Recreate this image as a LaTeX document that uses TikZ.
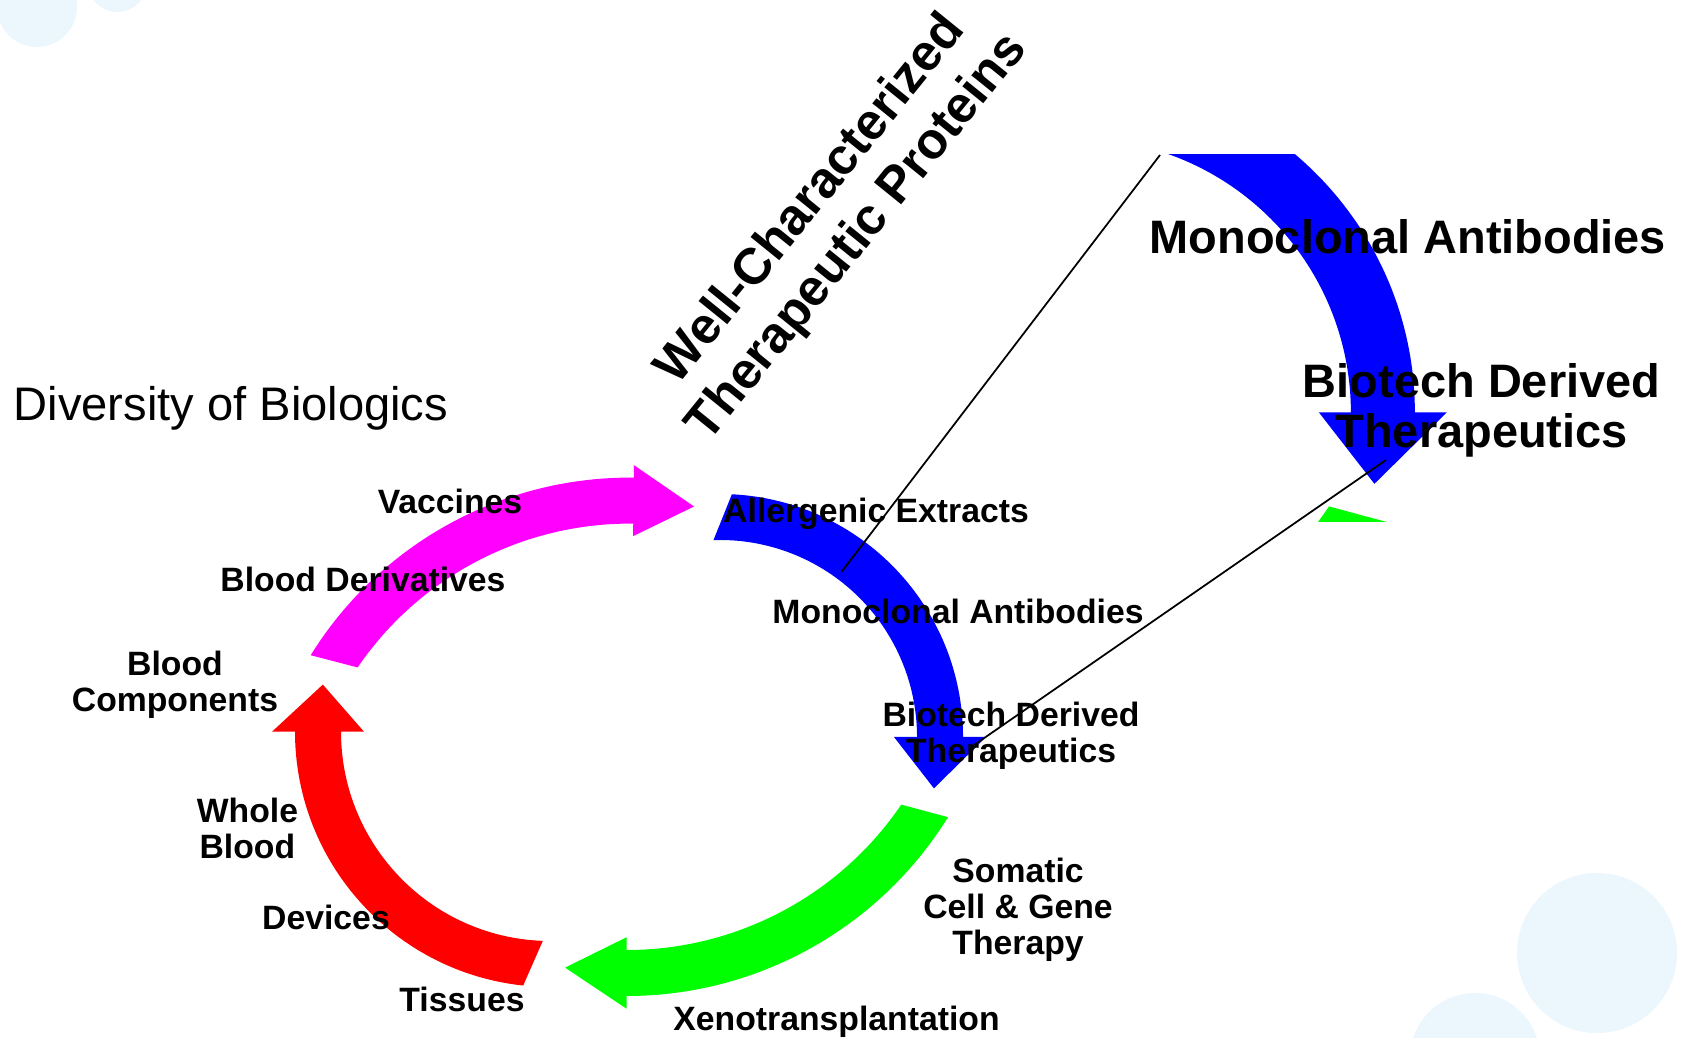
\documentclass[tikz,border=0pt]{standalone}
\usepackage{fontspec}
\setmainfont{Liberation Sans}
\usepackage{tikz}
\definecolor{bubble}{RGB}{236,246,253}
\definecolor{vaccmagenta}{RGB}{255,0,255}
\definecolor{mabblue}{RGB}{0,0,255}
\definecolor{cellgreen}{RGB}{0,255,0}
\definecolor{tissuered}{RGB}{255,0,0}
\tikzstyle{every picture} = [line join=miter]
\tikzstyle{lbl} = [font=\bfseries\fontsize{9.6}{10.2}\selectfont, align=center, inner sep=0pt]
\tikzstyle{zoomline} = [line width=0.5pt, black]

% colour, centre, radius, half width, outer tail, inner tail, head base, tip, head half width
\newcommand{\ringarrow}[9]{%
  \fill[#1, shift={#2}] (#5:{#3+#4}) arc[start angle=#5, end angle=#7, radius={#3+#4}]
    -- (#7:{#3+#9}) -- (#8:#3) -- (#7:{#3-#9}) -- (#7:{#3-#4})
    arc[start angle=#7, end angle=#6, radius={#3-#4}] -- cycle;}

\begin{document}
\begin{tikzpicture}
            \useasboundingbox (0,0) rectangle (16.9,10.37);
            \clip (0,0) rectangle (16.9,10.37);
            \fill[bubble] (0.37,10.30) circle (0.40);
            \fill[bubble] (1.175,10.55) circle (0.30);
            \fill[bubble] (15.97,0.84) circle (0.80);
            \fill[bubble] (14.75,-0.21) circle (0.65);

            \ringarrow{vaccmagenta}{(6.298,1.839)}{3.525}{0.23}{148.2}{145.7}{89.4}{79.5}{0.355}
            \ringarrow{mabblue}{(7.2,3.0)}{2.2}{0.23}{87.2}{91.9}{0}{-13.5}{0.46}
            \ringarrow{cellgreen}{(6.267,4.19)}{3.55}{0.23}{-31.8}{-34.2}{-90}{-100}{0.358}
            \ringarrow{tissuered}{(5.503,3.053)}{2.323}{0.23}{-96.1}{-92.05}{-180}{-191.7}{0.46}

            \node (title) at(0.13,6.16) [anchor=base west, inner sep=0pt, font=\fontsize{13.4}{16}\selectfont] {Diversity of Biologics};
            \node (proteins) at(8.35,8.18) [rotate=51, align=center, font=\bfseries\fontsize{14.5}{17}\selectfont] {Well-Characterized\\Therapeutic Proteins};

            \node (vaccines) at(4.50,5.36) [lbl] {Vaccines};
            \node (blood derivatives) at(3.63,4.58) [lbl] {Blood Derivatives};
            \node (blood components) at(1.75,3.52) [lbl] {Blood\\Components};
            \node (whole blood) at(2.474,2.087) [lbl] {Whole\\Blood};
            \node (devices) at(3.26,1.07) [lbl, anchor=base] {Devices};
            \node (tissues) at(4.62,0.253) [lbl, anchor=base] {Tissues};
            \node (xeno) at(8.365,0.07) [lbl, anchor=base] {Xenotransplantation};
            \node (somatic) at(10.18,1.27) [lbl] {Somatic\\Cell \& Gene\\Therapy};
            \node (biotech) at(10.11,3.015) [lbl] {Biotech Derived\\Therapeutics};
            \node (mab) at(9.58,4.26) [lbl] {Monoclonal Antibodies};
            \node (allergenic) at(8.76,5.23) [lbl] {Allergenic Extracts};

            \begin{scope}
            \clip (10.5,5.153) rectangle (16.9,8.82);
            \begin{scope}[shift={(0.753,2.073)}, scale=1.391]
            \ringarrow{mabblue}{(7.2,3.0)}{2.2}{0.23}{87.2}{91.9}{0}{-13.5}{0.46}
            \ringarrow{cellgreen}{(6.267,4.19)}{3.55}{0.23}{-31.8}{-34.2}{-90}{-100}{0.358}
            \node (big mab) at(9.58,4.26) [lbl, transform shape] {Monoclonal Antibodies};
            \node (big biotech) at(10.11,3.015) [lbl, transform shape] {Biotech Derived\\Therapeutics};
            \end{scope}
            \end{scope}

            \coordinate (mab end) at(8.417,4.653);
            \coordinate (biotech end) at(9.717,2.903);
            \coordinate (inset top) at(11.60,8.82);
            \coordinate (inset head) at(13.86,5.77);
            \draw[zoomline] (mab end) -- (inset top);
            \draw[zoomline] (biotech end) -- (inset head);
\end{tikzpicture}
\end{document}
